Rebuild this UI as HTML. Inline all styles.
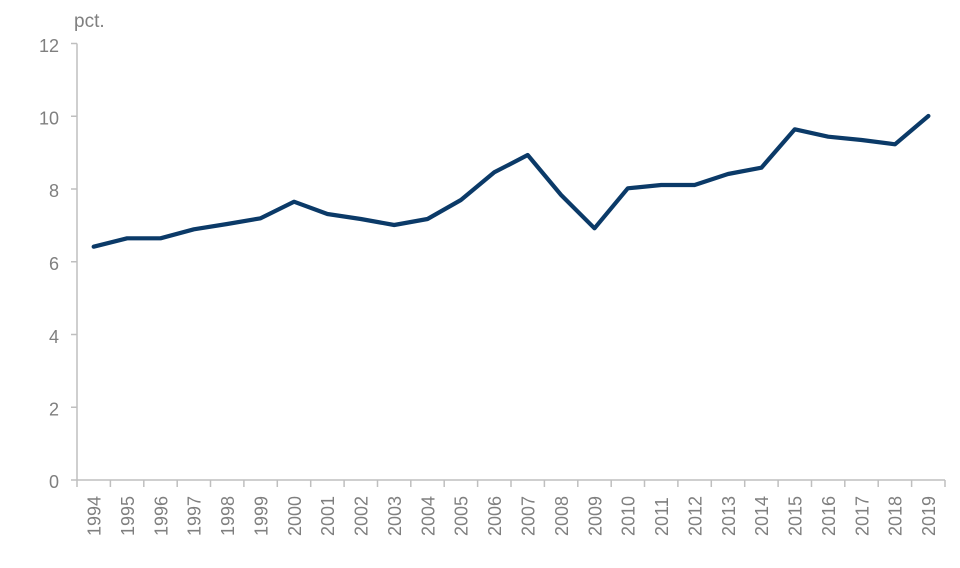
<!DOCTYPE html>
<html><head><meta charset="utf-8"><style>
html,body{margin:0;padding:0;background:#fff;}
svg{display:block;}
text{font-family:"Liberation Sans",sans-serif;fill:#7f7f7f;}
</style></head><body>
<svg width="960" height="568" viewBox="0 0 960 568" xmlns="http://www.w3.org/2000/svg">
<rect width="960" height="568" fill="#fff"/>
<text x="74" y="27" font-size="19">pct.</text>
<g stroke="#bfbfbf" stroke-width="1.5" fill="none">
<line x1="77" y1="43.5" x2="77" y2="480"/>
<line x1="77" y1="480" x2="945" y2="480"/>
<line x1="71" y1="43.5" x2="77" y2="43.5"/>
<line x1="71" y1="116.25" x2="77" y2="116.25"/>
<line x1="71" y1="189" x2="77" y2="189"/>
<line x1="71" y1="261.75" x2="77" y2="261.75"/>
<line x1="71" y1="334.5" x2="77" y2="334.5"/>
<line x1="71" y1="407.25" x2="77" y2="407.25"/>
<line x1="71" y1="480" x2="77" y2="480"/>
</g>
<g font-size="18" text-anchor="end">
<text x="59" y="52">12</text>
<text x="59" y="124.5">10</text>
<text x="59" y="197">8</text>
<text x="59" y="270">6</text>
<text x="59" y="343">4</text>
<text x="59" y="415.5">2</text>
<text x="59" y="488">0</text>
</g>
<g stroke="#bfbfbf" stroke-width="1.5">
<line x1="77" y1="480" x2="77" y2="487"/><line x1="110.4" y1="480" x2="110.4" y2="487"/><line x1="143.8" y1="480" x2="143.8" y2="487"/><line x1="177.2" y1="480" x2="177.2" y2="487"/><line x1="210.5" y1="480" x2="210.5" y2="487"/><line x1="243.9" y1="480" x2="243.9" y2="487"/><line x1="277.3" y1="480" x2="277.3" y2="487"/><line x1="310.7" y1="480" x2="310.7" y2="487"/><line x1="344.1" y1="480" x2="344.1" y2="487"/><line x1="377.5" y1="480" x2="377.5" y2="487"/><line x1="410.8" y1="480" x2="410.8" y2="487"/><line x1="444.2" y1="480" x2="444.2" y2="487"/><line x1="477.6" y1="480" x2="477.6" y2="487"/><line x1="511" y1="480" x2="511" y2="487"/><line x1="544.4" y1="480" x2="544.4" y2="487"/><line x1="577.8" y1="480" x2="577.8" y2="487"/><line x1="611.2" y1="480" x2="611.2" y2="487"/><line x1="644.5" y1="480" x2="644.5" y2="487"/><line x1="677.9" y1="480" x2="677.9" y2="487"/><line x1="711.3" y1="480" x2="711.3" y2="487"/><line x1="744.7" y1="480" x2="744.7" y2="487"/><line x1="778.1" y1="480" x2="778.1" y2="487"/><line x1="811.5" y1="480" x2="811.5" y2="487"/><line x1="844.8" y1="480" x2="844.8" y2="487"/><line x1="878.2" y1="480" x2="878.2" y2="487"/><line x1="911.6" y1="480" x2="911.6" y2="487"/><line x1="945" y1="480" x2="945" y2="487"/>
</g>
<g font-size="18">
<text transform="translate(100.5,536) rotate(-90)">1994</text>
<text transform="translate(133.9,536) rotate(-90)">1995</text>
<text transform="translate(167.3,536) rotate(-90)">1996</text>
<text transform="translate(200.7,536) rotate(-90)">1997</text>
<text transform="translate(234.1,536) rotate(-90)">1998</text>
<text transform="translate(267.4,536) rotate(-90)">1999</text>
<text transform="translate(300.8,536) rotate(-90)">2000</text>
<text transform="translate(334.2,536) rotate(-90)">2001</text>
<text transform="translate(367.6,536) rotate(-90)">2002</text>
<text transform="translate(401,536) rotate(-90)">2003</text>
<text transform="translate(434.4,536) rotate(-90)">2004</text>
<text transform="translate(467.7,536) rotate(-90)">2005</text>
<text transform="translate(501.1,536) rotate(-90)">2006</text>
<text transform="translate(534.5,536) rotate(-90)">2007</text>
<text transform="translate(567.9,536) rotate(-90)">2008</text>
<text transform="translate(601.3,536) rotate(-90)">2009</text>
<text transform="translate(634.7,536) rotate(-90)">2010</text>
<text transform="translate(668,536) rotate(-90)">2011</text>
<text transform="translate(701.4,536) rotate(-90)">2012</text>
<text transform="translate(734.8,536) rotate(-90)">2013</text>
<text transform="translate(768.2,536) rotate(-90)">2014</text>
<text transform="translate(801.6,536) rotate(-90)">2015</text>
<text transform="translate(835,536) rotate(-90)">2016</text>
<text transform="translate(868.3,536) rotate(-90)">2017</text>
<text transform="translate(901.7,536) rotate(-90)">2018</text>
<text transform="translate(935.1,536) rotate(-90)">2019</text>
</g>
<polyline fill="none" stroke="#0b3a68" stroke-width="4.2" stroke-linejoin="round" stroke-linecap="round"
points="93.7,246.7 127.1,238.3 160.5,238.3 193.9,229.3 227.2,224 260.6,218.3 294,201.7 327.4,214 360.8,219 394.2,225 427.5,219 460.9,200 494.3,172.3 527.7,155 561.1,195 594.5,228.3 627.8,188.3 661.2,185 694.6,185 728,174 761.4,167.7 794.8,129.3 828.2,136.7 861.6,140 895,144.3 928.4,116"/>
</svg>
</body></html>
